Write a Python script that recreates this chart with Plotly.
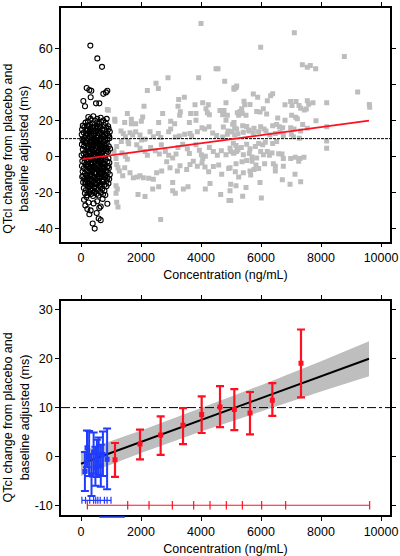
import plotly.graph_objects as go

# ---------------- Top panel data ----------------
# grey squares: higher-dose concentrations (ng/mL, ms)
hi_pts = [
    (4000, 74.0), (4500, 48.8), (4567, 48.8), (2900, 43.9), (3922, 43.9), (4789, 41.9),
    (2500, 40.8), (2578, 37.9), (2211, 36.8), (5100, 38.3), (5189, 39.2), (3256, 31.7),
    (3444, 33.0), (2100, 28.0), (3233, 28.0), (3311, 25.0), (3289, 23.0), (3800, 28.8),
    (4056, 29.9), (4244, 28.8), (4833, 29.9), (4167, 26.6), (4211, 24.4), (4278, 23.3),
    (1544, 23.9), (3656, 23.9), (3833, 23.9), (4633, 25.7), (4767, 25.7), (4722, 23.3),
    (4878, 23.0), (2056, 22.0), (2011, 19.7), (2722, 23.9), (1456, 19.0), (1678, 20.8),
    (1678, 18.2), (1822, 18.2), (2589, 19.0), (2989, 19.7), (3122, 18.2), (3611, 19.0),
    (3833, 20.2), (4833, 20.2), (5100, 19.0), (5256, 23.0), (878, 26.2), (911, 25.8),
    (1122, 20.8), (1133, 19.7), (1333, 14.2), (1411, 12.9), (1633, 13.3), (1722, 12.0),
    (1822, 13.8), (1478, 11.1), (1567, 8.4), (1589, 7.1), (1967, 12.0), (2022, 9.3),
    (2133, 9.7), (2300, 13.8), (2411, 11.1), (2578, 12.9), (2656, 10.6), (2922, 13.8),
    (2989, 15.3), (3144, 10.9), (3278, 11.5), (3456, 12.4), (3633, 12.9), (3689, 11.5),
    (3878, 13.8), (4033, 16.0), (4122, 15.3), (4267, 16.6), (4389, 13.1), (4522, 11.7),
    (4722, 10.9), (4878, 12.4), (5033, 13.8), (5189, 15.3), (4744, 16.4), (4900, 14.2),
    (1344, 8.4), (1189, 5.6), (1100, 2.9), (1167, -1.1), (1367, 2.0), (1478, 0.2),
    (1544, -1.5), (1856, 6.6), (1967, 4.7), (2133, 2.9), (2211, 0.7), (2322, 5.1),
    (2478, 3.3), (2611, 1.5), (2678, 6.6), (2811, 2.9), (2922, 0.7), (3056, -0.7),
    (3167, 1.5), (3233, 5.1), (3389, 6.9), (3544, 4.4), (3611, 1.8), (3833, 6.6),
    (3944, 3.6), (4011, 1.1), (4056, -1.1), (4144, 0.2), (4278, 5.1), (4411, 2.9),
    (4544, 0.7), (4678, 3.3), (4833, 1.1), (4967, 4.7), (5078, 2.0), (5211, 4.4),
    (1189, -4.4), (1233, -6.2), (1278, -8.0), (1389, -10.7), (1456, -6.2), (1633, -8.9),
    (1744, -11.7), (1878, -11.3), (1967, -10.7), (2078, -11.7), (2256, -12.0), (2411, -12.6),
    (2522, -8.9), (2689, -8.0), (2856, -2.9), (2967, -6.2), (3056, -14.4), (3211, -8.0),
    (3300, -5.1), (3522, -7.1), (3633, -4.4), (3744, -2.6), (3878, -5.3), (4033, -3.5),
    (4133, -5.8), (4256, -8.4), (4411, -5.5), (4589, -4.7), (4689, -9.8), (4922, -6.6),
    (1167, -16.2), (1211, -18.0), (1167, -20.4), (1189, -25.3), (1233, -28.0), (1900, -21.1),
    (2133, -22.2), (2389, -18.0), (2589, -16.8), (3056, -18.9), (3144, -20.4), (3411, -18.0),
    (3567, -16.8), (4144, -18.0), (4300, -14.9), (4656, -21.1), (4967, -18.9), (4933, -24.4),
    (2656, -35.0),
    (7111, 68.9), (5989, 60.8), (8778, 55.7), (7378, 51.0), (7544, 49.7), (7644, 50.6),
    (7822, 48.8), (5100, 37.5), (5167, 38.3), (9222, 35.9), (5744, 34.8), (5889, 33.0),
    (6322, 33.9), (6389, 35.0), (5433, 30.8), (5456, 28.8), (5356, 26.6), (5633, 29.0),
    (5300, 25.1), (6211, 31.1), (6989, 30.6), (7167, 30.6), (7033, 28.4), (7267, 28.4),
    (7322, 26.9), (7544, 31.1), (7589, 29.1), (7733, 29.9), (6800, 28.8), (8189, 29.9),
    (9611, 29.0), (9622, 27.5), (7444, 25.9), (7511, 26.4), (5211, 24.4), (5378, 24.0),
    (5500, 23.0), (5856, 25.1), (5967, 24.8), (6078, 26.6), (6189, 23.7), (6556, 21.5),
    (7022, 23.0), (7156, 21.9), (7211, 21.1), (7833, 19.9), (5056, 18.0), (5122, 16.0),
    (5389, 17.1), (5522, 16.8), (5589, 14.8), (5767, 15.7), (5989, 16.6), (6100, 15.3),
    (6167, 14.2), (6389, 17.1), (6522, 17.9), (6611, 16.6), (6722, 16.0), (6800, 20.2),
    (6989, 16.0), (7100, 15.3), (7322, 14.2), (7389, 17.9), (7544, 15.7), (4967, 13.8),
    (5122, 12.0), (5233, 12.7), (5411, 13.5), (5611, 14.2), (5744, 13.1), (5922, 13.8),
    (6300, 12.0), (6478, 12.8), (6633, 13.5), (6744, 11.7), (7011, 12.4), (7078, 11.1),
    (7278, 10.2), (8189, 16.6), (8189, 8.7), (8189, 4.7), (5078, 7.5), (5167, 6.2),
    (5233, 3.8), (5344, 5.1), (5522, 6.9), (5633, 4.4), (5811, 5.6), (5922, 7.3),
    (6056, 6.6), (6144, 8.0), (6389, 7.3), (6522, 8.4), (4989, 2.9), (5100, 2.0),
    (5189, 2.9), (5411, 1.1), (5611, 1.8), (5700, -0.2), (5856, -0.7), (5989, 2.9),
    (6078, 1.1), (6211, 2.9), (6278, 0.7), (6367, 2.0), (6589, 1.6), (6700, 1.5),
    (6744, -1.1), (6989, -1.1), (7144, -0.4), (7300, -1.1), (7433, -0.4), (5167, -4.0),
    (5367, -2.9), (5522, -2.2), (5700, -2.6), (5833, -4.7), (5922, -6.6), (6122, -4.0),
    (6411, -4.0), (6478, -5.3), (6744, -5.3), (7256, -2.6), (7133, -9.8), (4967, -6.2),
    (5144, -8.4), (5256, -11.3), (5411, -8.9), (5633, -8.0), (5656, -10.2), (5767, -7.1),
    (6478, -8.0), (4989, -15.3), (5167, -16.2), (5500, -17.1), (5967, -14.4), (6711, -12.9),
    (6967, -15.3), (7322, -14.0), (5389, -22.0), (6011, -23.0), (4989, -24.4),
]
hi_conc = [p[0] for p in hi_pts]
hi_qtc = [p[1] for p in hi_pts]

# open black circles: low-dose concentrations
lo_pts = [
    (311, 61.7), (544, 54.6), (700, 49.9), (189, 38.1), (278, 37.0), (344, 36.6),
    (744, 34.9), (833, 35.7), (878, 36.6), (322, 33.0), (78, 30.9), (133, 28.0),
    (500, 29.6), (611, 29.6), (244, 22.0), (322, 21.0), (411, 22.4), (544, 21.0),
    (656, 21.6), (744, 20.1), (856, 21.0),
    (144, -27.1), (211, -29.1), (322, -29.9), (522, -31.3), (656, -27.7), (278, -32.0),
    (389, -37.2), (456, -40.0), (589, -34.4), (656, -35.3), (878, -26.2), (250, -25.5),
    (100, -24.0), (420, -26.0), (540, -24.8), (720, -23.5), (180, -22.5), (610, -28.5),
    (60, 17.2), (150, 18.9), (230, 19.6), (300, 17.8), (390, 18.5), (470, 19.9),
    (520, 17.1), (600, 18.3), (680, 19.2), (760, 17.6), (820, 18.8), (905, 16.9),
    (35, 15.1), (110, 16.4), (180, 14.6), (255, 16.9), (330, 15.3), (405, 14.2),
    (455, 16.1), (515, 15.6), (575, 14.4), (640, 16.7), (705, 15.0), (770, 14.7),
    (840, 16.2), (920, 15.4), (960, 13.8),
    (25, 12.3), (90, 13.4), (160, 11.8), (215, 12.9), (285, 13.7), (350, 11.5),
    (420, 12.6), (480, 13.1), (545, 11.9), (610, 12.8), (670, 13.5), (735, 11.6),
    (800, 12.4), (870, 13.0), (940, 11.2),
    (50, 9.6), (120, 10.4), (190, 8.7), (260, 9.9), (310, 10.8), (380, 8.9),
    (440, 10.1), (500, 9.3), (560, 10.6), (625, 8.5), (690, 9.7), (750, 10.9),
    (810, 8.8), (880, 9.5), (950, 10.2),
    (30, 6.8), (100, 5.7), (170, 7.4), (230, 6.1), (300, 7.7), (360, 5.4),
    (425, 6.9), (490, 7.8), (550, 5.9), (600, 6.6), (660, 7.2), (720, 5.3),
    (790, 6.4), (860, 7.5), (925, 5.8),
    (60, 3.9), (140, 2.6), (205, 4.4), (270, 3.1), (335, 4.8), (395, 2.3),
    (460, 3.6), (520, 4.6), (585, 2.9), (650, 3.8), (710, 2.2), (775, 4.1),
    (835, 3.3), (900, 2.7), (970, 4.4),
    (20, 0.8), (85, 1.6), (155, -0.4), (225, 0.5), (290, 1.9), (355, -0.8),
    (415, 0.3), (475, 1.4), (535, -0.6), (595, 0.9), (665, 1.7), (730, -0.2),
    (795, 0.6), (850, 1.8), (915, -0.9),
    (45, -2.4), (115, -3.3), (180, -1.7), (245, -2.9), (315, -3.8), (375, -1.5),
    (440, -2.6), (500, -3.6), (565, -1.9), (630, -3.1), (690, -2.2), (755, -3.9),
    (815, -1.3), (880, -2.8), (945, -3.4),
    (30, -5.2), (95, -6.4), (165, -4.6), (235, -5.8), (295, -6.9), (360, -4.3),
    (420, -5.5), (485, -6.6), (550, -4.9), (615, -6.1), (675, -5.0), (740, -6.8),
    (800, -4.4), (865, -5.9), (930, -6.3),
    (55, -8.3), (130, -9.4), (200, -7.6), (265, -8.9), (330, -9.8), (395, -7.3),
    (455, -8.6), (515, -9.5), (580, -7.9), (640, -9.1), (705, -8.0), (770, -9.7),
    (830, -7.5), (895, -8.7), (960, -9.9),
    (40, -11.2), (110, -12.4), (175, -10.6), (240, -11.8), (305, -12.9), (370, -10.3),
    (435, -11.5), (495, -12.6), (560, -10.9), (620, -12.1), (685, -11.0), (750, -12.8),
    (815, -10.5), (880, -11.7), (940, -12.5),
    (70, -14.3), (145, -15.2), (210, -13.6), (280, -14.8), (345, -15.9), (410, -13.4),
    (470, -14.6), (535, -15.5), (600, -13.9), (665, -15.1), (725, -14.0), (790, -15.7),
    (855, -13.5), (915, -14.9),
    (95, -17.4), (165, -18.6), (235, -16.7), (310, -17.9), (380, -18.8), (445, -16.5),
    (510, -17.6), (575, -18.4), (645, -16.9), (710, -17.8), (780, -18.9), (850, -16.4),
    (130, -20.3), (205, -21.5), (270, -19.6), (340, -20.8), (400, -21.9), (465, -19.4),
    (530, -20.7), (590, -21.6), (660, -19.9), (735, -20.9), (810, -21.3),
    (210, 10.5), (260, 5.2), (320, -1.2), (380, 3.5), (430, -6.1), (480, -0.2),
    (540, 7.5), (590, -4.5), (640, 1.2), (700, -9.6), (230, -4.1), (285, -10.7),
    (350, 8.1), (410, -12.0), (470, 4.9), (525, -7.1), (575, 11.3), (630, -1.9),
    (680, 5.6), (250, -15.0), (300, 14.8), (365, -7.7), (450, -17.2), (505, 13.9),
    (555, -13.4), (615, 9.0), (190, -12.8), (270, -6.5), (340, 2.1), (400, 6.9),
    (125, 7.9), (165, 1.1), (195, -5.3), (240, 2.8), (280, 11.4), (325, 6.4),
    (345, -5.6), (390, -3.2), (430, 8.6), (460, -9.2), (495, 5.9), (510, -1.8),
    (560, 2.4), (600, -9.8), (635, 4.7), (655, -6.9), (700, 12.1), (715, -3.6),
    (760, 8.2), (780, -11.3), (825, 5.1), (850, -8.1), (900, 11.8), (910, -5.2),
    (75, -10.8), (85, 8.6), (150, -14.1), (220, 15.2), (290, -16.3), (375, 16.4),
    (485, -15.3), (560, 16.2), (625, -16.2), (700, -13.5), (745, 3.0), (110, -0.9),
    (255, -1.4), (330, 12.9), (445, 1.5), (520, 10.4), (585, -11.4), (660, 10.1),
    (770, -6.1), (870, 4.2), (200, 17.3), (430, -20.2), (545, 19.1), (320, -19.0),
]
lo_conc = [p[0] for p in lo_pts]
lo_qtc = [p[1] for p in lo_pts]

# fitted regression line (top)
fit_top_x = [50, 9600]
fit_top_y = [-1.4, 20.0]
threshold = 10

# ---------------- Bottom panel data ----------------
model_x = [0, 9600]
model_y = [-1.5, 20.0]
ci_x = [0, 2000, 4000, 6000, 8000, 9600]
ci_lo = [-4.0, 0.7, 5.1, 9.2, 13.3, 16.4]
ci_hi = [1.0, 5.3, 9.9, 14.6, 19.5, 23.6]

red_x = [1133, 1967, 2655, 3400, 4022, 4633, 5111, 5633, 6378, 7333]
red_y = [-0.7, 2.55, 4.4, 6.4, 8.6, 10.1, 9.6, 8.9, 11.5, 19.1]
red_lo = [-4.2, -0.6, 0.3, 2.5, 4.8, 6.0, 5.4, 4.5, 8.3, 12.1]
red_hi = [2.75, 5.5, 8.2, 9.9, 12.3, 14.4, 13.8, 13.2, 15.0, 26.0]

blue_x = [130, 200, 270, 350, 420, 480, 530, 590, 660, 730, 870]
blue_y = [-3.1, 1.8, -0.2, -3.8, 0.9, -2.2, -0.8, 0.5, -1.9, 0.4, -0.6]
blue_lo = [-7.1, -2.2, -4.0, -8.1, -3.5, -6.0, -4.2, -3.8, -6.2, -4.0, -6.7]
blue_hi = [0.9, 5.3, 5.2, 0.5, 4.9, 2.0, 3.4, 3.9, 2.4, 5.1, 5.7]

red_bins = [211, 1556, 2267, 3044, 3756, 4300, 4844, 5378, 6022, 6822, 9622]
blue_bins = [30, 150, 290, 420, 490, 560, 640, 780, 870, 1000]
red_bin_y = -10
blue_bin_y = -9
blue_extra_x = [610, 1460]

x_tick_vals = [0, 2000, 4000, 6000, 8000, 10000]
x_tick_text = ["0", "2000", "4000", "6000", "8000", "10000"]
y1_ticks = [-40, -20, 0, 20, 40, 60]
y2_ticks = [-10, 0, 10, 20, 30]

RED = "#ff1020"
BLUE = "#1f3cff"

fig = go.Figure()

# top panel
fig.add_trace(go.Scatter(x=hi_conc, y=hi_qtc, mode="markers", xaxis="x", yaxis="y",
                         marker=dict(symbol="square", size=5, color="#bdbdbd"), showlegend=False))
fig.add_trace(go.Scatter(x=lo_conc, y=lo_qtc, mode="markers", xaxis="x", yaxis="y",
                         marker=dict(symbol="circle-open", size=5, color="black",
                                     line=dict(width=1.1, color="black")), showlegend=False))
fig.add_trace(go.Scatter(x=[-667, 10300], y=[threshold, threshold], mode="lines", xaxis="x", yaxis="y",
                         line=dict(color="black", width=1, dash="3px,1px"), showlegend=False))
fig.add_trace(go.Scatter(x=fit_top_x, y=fit_top_y, mode="lines", xaxis="x", yaxis="y",
                         line=dict(color=RED, width=1.6), showlegend=False))

# bottom panel
fig.add_trace(go.Scatter(x=ci_x, y=ci_lo, mode="lines", xaxis="x2", yaxis="y2",
                         line=dict(width=0, color="#bebebe"), showlegend=False, hoverinfo="skip"))
fig.add_trace(go.Scatter(x=ci_x, y=ci_hi, mode="lines", xaxis="x2", yaxis="y2", fill="tonexty",
                         fillcolor="#bebebe", line=dict(width=0, color="#bebebe"),
                         showlegend=False, hoverinfo="skip"))
fig.add_trace(go.Scatter(x=[-667, 10300], y=[threshold, threshold], mode="lines", xaxis="x2", yaxis="y2",
                         line=dict(color="black", width=1, dash="dashdot"), showlegend=False))
fig.add_trace(go.Scatter(x=model_x, y=model_y, mode="lines", xaxis="x2", yaxis="y2",
                         line=dict(color="black", width=2), showlegend=False))

fig.add_trace(go.Scatter(
    x=blue_x, y=blue_y, mode="markers", xaxis="x2", yaxis="y2",
    marker=dict(symbol="square", size=5, color=BLUE),
    error_y=dict(type="data", symmetric=False,
                 array=[h - y for h, y in zip(blue_hi, blue_y)],
                 arrayminus=[y - l for l, y in zip(blue_lo, blue_y)],
                 color=BLUE, thickness=2, width=4),
    showlegend=False))
fig.add_trace(go.Scatter(
    x=red_x, y=red_y, mode="markers", xaxis="x2", yaxis="y2",
    marker=dict(symbol="square", size=5, color=RED),
    error_y=dict(type="data", symmetric=False,
                 array=[h - y for h, y in zip(red_hi, red_y)],
                 arrayminus=[y - l for l, y in zip(red_lo, red_y)],
                 color=RED, thickness=2.2, width=4),
    showlegend=False))

fig.add_trace(go.Scatter(x=red_bins, y=[red_bin_y] * len(red_bins), mode="lines+markers",
                         xaxis="x2", yaxis="y2", line=dict(color=RED, width=1.2),
                         marker=dict(symbol="line-ns", size=6, line=dict(color=RED, width=1.2)),
                         showlegend=False))
fig.add_trace(go.Scatter(x=blue_bins, y=[blue_bin_y] * len(blue_bins), mode="lines+markers",
                         xaxis="x2", yaxis="y2", line=dict(color=BLUE, width=1.2),
                         marker=dict(symbol="line-ns", size=5, line=dict(color=BLUE, width=1.2)),
                         showlegend=False))

FONT = "Liberation Sans, Arial, sans-serif"
axis_common = dict(showline=True, linecolor="black", linewidth=1.5, mirror="ticks",
                   ticks="outside", ticklen=4, tickwidth=1.2, tickcolor="black",
                   showgrid=False, zeroline=False,
                   tickfont=dict(family=FONT, size=12.5, color="black"))

fig.update_layout(
    width=400, height=556,
    margin=dict(l=61, r=10, t=2, b=39),
    paper_bgcolor="white", plot_bgcolor="white",
    font=dict(family=FONT, size=12, color="black"),
    xaxis=dict(domain=[0, 1], anchor="y", range=[-667, 10300],
               tickvals=x_tick_vals, ticktext=x_tick_text,
               title=dict(text="Concentration (ng/mL)", standoff=6,
                          font=dict(family=FONT, size=12.5)), **axis_common),
    yaxis=dict(domain=[0.539, 1], anchor="x", range=[-47.3, 82.6],
               tickvals=y1_ticks, ticktext=[str(v) for v in y1_ticks], **axis_common),
    xaxis2=dict(domain=[0, 1], anchor="y2", range=[-667, 10300],
                tickvals=x_tick_vals, ticktext=x_tick_text,
                title=dict(text="Concentration (ng/mL)", standoff=6,
                           font=dict(family=FONT, size=12.5)), **axis_common),
    yaxis2=dict(domain=[0, 0.4227], anchor="x2", range=[-12.0, 31.9],
                tickvals=y2_ticks, ticktext=[str(v) for v in y2_ticks], **axis_common),
    shapes=[
        dict(type="line", xref="x2", yref="paper", x0=blue_extra_x[0], x1=blue_extra_x[1],
             y0=-0.004, y1=-0.004, line=dict(color=BLUE, width=1.5), layer="above"),
    ],
    annotations=[
        dict(text="QTcI change from placebo and<br>baseline adjusted (ms)", xref="paper", yref="paper",
             x=-0.137, y=0.722, textangle=-90, showarrow=False, xanchor="center", yanchor="middle",
             font=dict(family=FONT, size=12.5, color="black")),
        dict(text="QTcI change from placebo and<br>baseline adjusted (ms)", xref="paper", yref="paper",
             x=-0.137, y=0.192, textangle=-90, showarrow=False, xanchor="center", yanchor="middle",
             font=dict(family=FONT, size=12.5, color="black")),
    ],
)

fig.write_html("out.html", config={"displayModeBar": False},
               post_script="document.body.style.margin='0';document.body.style.padding='0';")
